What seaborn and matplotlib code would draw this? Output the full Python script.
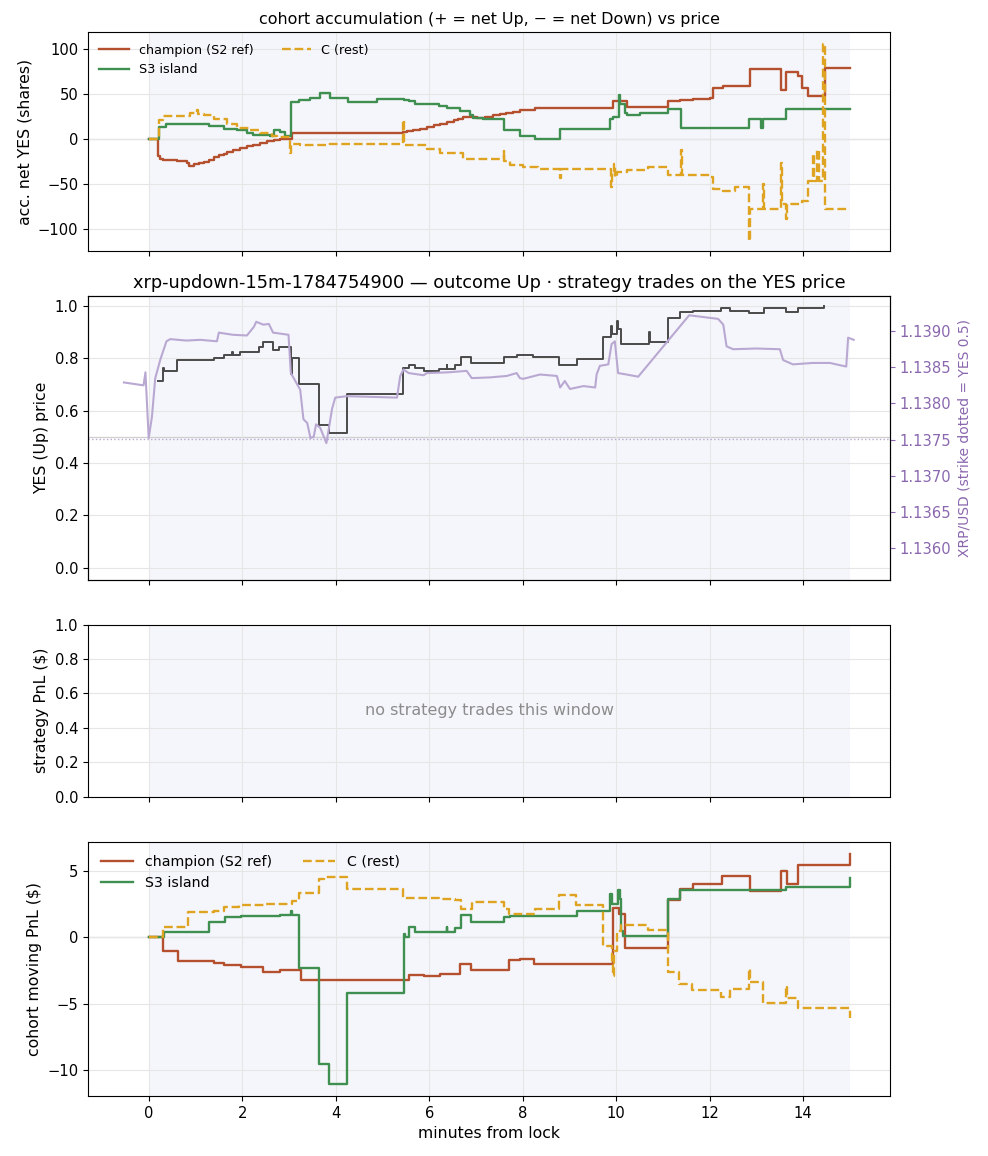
import pandas as pd
import seaborn as sns
from matplotlib import pyplot as plt

# ---- cohort accumulation (net YES shares) ----
champ_acc_t = [0.00, 0.20, 0.24, 0.31, 0.60, 0.82, 0.86, 0.96, 1.08, 1.18, 1.29, 1.39, 1.50, 1.60, 1.67,
               1.80, 1.96, 2.10, 2.24, 2.38, 2.53, 2.67, 2.81, 3.06, 5.43, 5.52, 5.66, 5.80, 5.95, 6.10,
               6.23, 6.38, 6.52, 6.62, 6.73, 7.02, 7.20, 7.37, 7.51, 7.65, 7.80, 7.94, 8.26, 9.93, 10.22,
               11.11, 11.36, 11.50, 11.65, 12.00, 12.07, 12.28, 12.86, 13.53, 13.64, 13.89, 13.98, 14.10,
               14.46, 15.00]
champ_acc_v = [0, -19.6, -22, -23.3, -24.5, -27.0, -30.4, -27.8, -27.0, -25.5, -23, -20.4, -18.5, -16.5, -14.8,
               -12.5, -10.0, -8.5, -6.7, -4.8, -3.0, -1.1, 0.0, 6.7, 7.5, 8.5, 9.3, 11.0, 13.0, 15.0,
               16.7, 18.5, 20.4, 22.0, 24.0, 23.3, 24.6, 25.9, 27.2, 28.5, 30.0, 31.5, 34.4, 41.9, 35.2,
               41.9, 42.6, 43.2, 43.7, 45.2, 56.3, 58.1, 77.8, 53.7, 73.7, 69.3, 56.7, 47.8,
               78.9, 78.9]

s3_acc_t = [0.00, 0.21, 0.36, 1.28, 1.60, 1.89, 2.10, 2.24, 2.60, 2.67, 2.81, 2.92, 3.04, 3.21, 3.45,
            3.67, 3.87, 4.27, 4.89, 5.45, 5.56, 5.70, 6.20, 6.37, 6.66, 6.87, 6.94, 7.16, 7.60, 7.94,
            8.26, 8.79, 9.87, 9.93, 10.06, 10.09, 10.19, 10.22, 10.51, 11.11, 11.38, 12.84, 13.10, 13.13,
            13.64, 15.00]
s3_acc_v = [0.0, 13.0, 16.7, 14.0, 11.1, 9.3, 6.3, 4.4, 2.6, 9.3, 7.4, 2.6, 40.7, 43.3, 45.2,
            50.7, 45.2, 40.7, 44.4, 42.6, 41.5, 38.1, 35.9, 34.4, 30.4, 25.9, 23.3, 22.2, 10.0, 2.6,
            0.0, 11.1, 22.2, 24.0, 48.1, 38.9, 28.5, 25.9, 28.9, 33.3, 12.2, 22.2, 12.0, 22.2,
            32.6, 32.6]

c_acc_t = [0.00, 0.21, 0.31, 0.89, 1.03, 1.06, 1.18, 1.39, 1.67, 1.89, 2.17, 2.39, 2.64, 2.74, 3.03,
           3.05, 3.24, 3.81, 5.43, 5.45, 5.95, 6.23, 6.73, 7.59, 7.61, 7.73, 8.01, 8.33, 8.79, 8.81,
           9.86, 9.88, 9.91, 9.95, 9.98, 10.02, 10.22, 10.69, 11.11, 11.38, 11.40, 12.00, 12.07, 12.28,
           12.53, 12.84, 12.87, 13.14, 13.16, 13.53, 13.55, 13.64, 13.66, 13.98, 14.10, 14.20, 14.23,
           14.30, 14.33, 14.42, 14.46, 15.00]
c_acc_v = [0.0, 20.4, 24.8, 28.5, 31.5, 27.0, 25.9, 22.2, 16.7, 11.9, 9.3, 6.7, 3.3, 1.9, -16.0,
           -5.6, -6.7, -5.6, 21.0, -7.4, -11.0, -15.6, -22.2, -14.0, -25.2, -29.6, -31.5, -33.3, -44.0, -33.3,
           -33.3, -53.7, -37.0, -27.8, -42.0, -37.0, -34.4, -31.5, -40.7, -12.0, -40.7, -42.6, -55.6, -57.4,
           -53.7, -113.0, -77.8, -50.0, -77.8, -27.0, -72.2, -89.0, -72.2, -68.5, -46.3, -16.7, -46.3,
           -12.0, -46.3, 105.6, -77.8, -77.8]

# ---- market: YES price (steps) and XRP/USD ----
yes_t = [0.19, 0.31, 0.335, 0.61, 1.39, 1.62, 1.78, 1.80, 1.96, 2.35, 2.44, 2.66, 2.79, 3.04, 3.065,
         3.21, 3.65, 3.85, 4.24, 5.44, 5.56, 5.70, 5.89, 6.20, 6.37, 6.39, 6.55, 6.67, 6.89, 7.60,
         7.88, 8.23, 8.78, 9.16, 9.71, 9.89, 9.91, 10.01, 10.04, 10.11, 10.70, 10.72, 11.11, 11.36, 11.65,
         12.25, 12.44, 12.84, 13.16, 13.64, 13.89, 14.44]
yes_v = [0.711, 0.762, 0.751, 0.792, 0.802, 0.810, 0.823, 0.810, 0.823, 0.841, 0.862, 0.830, 0.841, 0.741, 0.802,
         0.700, 0.545, 0.513, 0.662, 0.762, 0.773, 0.762, 0.751, 0.760, 0.775, 0.760, 0.773, 0.805, 0.780, 0.805,
         0.811, 0.805, 0.773, 0.796, 0.879, 0.924, 0.891, 0.943, 0.910, 0.853, 0.898, 0.862, 0.953, 0.974, 0.981,
         0.991, 0.981, 0.971, 0.991, 0.974, 0.991, 0.997]

xrp_t = [-0.53, -0.11, -0.07, 0.00, 0.07, 0.14, 0.25, 0.38, 0.46, 0.80, 1.10, 1.46, 1.50, 1.80, 2.10,
         2.25, 2.30, 2.45, 2.57, 2.66, 2.99, 3.04, 3.24, 3.31, 3.39, 3.46, 3.53, 3.58, 3.67, 3.80,
         3.85, 3.92, 3.99, 4.24, 4.80, 5.31, 5.38, 5.45, 5.56, 5.88, 5.95, 6.40, 6.80, 6.91, 7.30,
         7.66, 7.87, 7.94, 8.01, 8.37, 8.73, 8.80, 8.90, 9.01, 9.30, 9.55, 9.58, 9.65, 9.83, 9.90,
         9.97, 10.04, 10.22, 10.47, 11.56, 12.18, 12.29, 12.36, 12.50, 13.00, 13.50, 13.57, 13.78, 14.20,
         14.57, 14.92, 14.96, 15.08]
xrp_v = [1.13829, 1.13825, 1.13843, 1.13752, 1.13782, 1.13835, 1.13861, 1.13886, 1.13889, 1.13887,
         1.13888, 1.13886, 1.13898, 1.13895, 1.13894, 1.13906, 1.13913, 1.13909, 1.13910, 1.13898,
         1.13895, 1.13842, 1.13819, 1.13778, 1.13773, 1.13752, 1.13754, 1.13771, 1.13766, 1.13745,
         1.13764, 1.13792, 1.13808, 1.13810, 1.13809, 1.13808, 1.13838, 1.13847, 1.13842, 1.13839,
         1.13842, 1.13843, 1.13845, 1.13835, 1.13836, 1.13838, 1.13842, 1.13835, 1.13834, 1.13840,
         1.13838, 1.13822, 1.13831, 1.13820, 1.13824, 1.13822, 1.13840, 1.13852, 1.13854, 1.13882,
         1.13886, 1.13842, 1.13840, 1.13837, 1.13922, 1.13917, 1.13909, 1.13879, 1.13875, 1.13876,
         1.13875, 1.13860, 1.13854, 1.13856, 1.13856, 1.13851, 1.13891, 1.13888]
strike = 1.13751
xrp_ticks = [1.1360, 1.1365, 1.1370, 1.1375, 1.1380, 1.1385, 1.1390]

# ---- cohort moving PnL ----
champ_pnl_t = [0.00, 0.31, 0.62, 1.40, 1.62, 1.97, 2.44, 2.80, 3.25, 5.56, 5.88, 6.22, 6.66, 6.89, 7.71,
               7.94, 8.25, 9.93, 10.07, 10.19, 11.11, 11.36, 11.65, 12.27, 12.87, 13.53, 13.65, 13.89, 15.00]
champ_pnl_v = [0.0, -1.0, -1.77, -1.97, -2.1, -2.27, -2.58, -2.47, -3.23, -2.85, -2.95, -2.78, -2.02, -2.47, -1.72,
               -1.64, -2.02, 2.2, 1.77, -0.81, 2.83, 3.66, 4.04, 4.62, 3.48, 5.0, 4.0, 5.48, 6.3]

s3_pnl_t = [0.00, 0.32, 1.30, 1.64, 1.97, 2.80, 3.04, 3.07, 3.21, 3.65, 3.85, 4.25, 5.45, 5.48, 5.56,
            5.70, 6.37, 6.39, 6.55, 6.67, 6.89, 7.60, 7.73, 8.26, 9.16, 9.87, 9.90, 10.04, 10.08, 10.11,
            10.14, 11.11, 11.36, 13.64, 15.00]
s3_pnl_v = [0.0, 0.43, 1.14, 1.52, 1.59, 1.69, 2.0, 1.69, -2.35, -9.52, -11.04, -4.22, 0.25, 0.0, 0.76,
            0.38, 0.76, 0.38, 0.68, 1.69, 1.14, 1.52, 1.64, 1.59, 2.02, 3.28, 2.53, 3.59, 2.9, 0.5,
            0.13, 2.9, 3.59, 3.79, 4.47]

c_pnl_t = [0.00, 0.31, 0.83, 1.39, 1.60, 1.94, 2.46, 3.06, 3.21, 3.65, 3.74, 4.24, 5.43, 6.03, 6.20,
           6.55, 6.67, 6.91, 7.60, 7.71, 8.26, 8.78, 9.15, 9.71, 9.90, 9.93, 9.96, 10.02, 10.11, 10.68,
           11.11, 11.35, 11.63, 12.25, 12.44, 12.85, 12.87, 13.15, 13.64, 13.66, 13.89, 15.00]
c_pnl_v = [0.0, 0.81, 1.89, 2.02, 2.27, 2.40, 2.53, 2.70, 3.36, 4.42, 4.55, 3.61, 2.95, 3.0, 2.85,
           2.78, 2.15, 2.65, 2.1, 1.77, 2.15, 3.2, 2.45, -0.63, -2.0, -2.9, -1.0, 0.5, 0.93, 0.58,
           -2.65, -3.53, -3.96, -4.49, -3.91, -2.4, -3.36, -4.92, -3.66, -4.55, -5.35, -6.06]

cohorts = ['champion (S2 ref)', 'S3 island', 'C (rest)']
colors = {'champion (S2 ref)': '#b5502e', 'S3 island': '#3f8f50', 'C (rest)': '#dfa322'}
styles = {'champion (S2 ref)': '-', 'S3 island': '-', 'C (rest)': '--'}
acc = {'champion (S2 ref)': (champ_acc_t, champ_acc_v),
       'S3 island': (s3_acc_t, s3_acc_v),
       'C (rest)': (c_acc_t, c_acc_v)}
pnl = {'champion (S2 ref)': (champ_pnl_t, champ_pnl_v),
       'S3 island': (s3_pnl_t, s3_pnl_v),
       'C (rest)': (c_pnl_t, c_pnl_v)}

plt.rcParams['font.family'] = ['DejaVu Sans']
purple = '#8a67ae'
span_color = '#f5f6fb'
label_fs = 11.3
tick_fs = 10.6

fig, axes = plt.subplots(4, 1, figsize=(9.88, 11.56), dpi=100, sharex=True,
                         gridspec_kw={'height_ratios': [219, 283, 172, 254]})
fig.subplots_adjust(left=0.089, right=0.901, top=0.972, bottom=0.052, hspace=0.194)
ax1, ax2, ax3, ax4 = axes

for ax in axes:
    ax.axvspan(0, 15, color=span_color, zorder=0, lw=0)
    ax.grid(True, color='#e6e6e6', lw=0.8)


def draw_cohorts(ax, data, fs):
    ax.axhline(0, color='#cfcfcf', lw=0.9, zorder=1)
    for name in cohorts:
        t, v = data[name]
        df = pd.DataFrame({'t': t, 'v': v})
        sns.lineplot(data=df, x='t', y='v', ax=ax, drawstyle='steps-post', estimator=None, sort=False,
                     color=colors[name], linestyle=styles[name], lw=1.7, label=name)
    ax.legend(loc='upper left', ncol=2, frameon=False, fontsize=fs, handlelength=2.3, columnspacing=2.2)


# panel 1
draw_cohorts(ax1, acc, 9.2)
ax1.set_ylim(-125, 118)
ax1.set_ylabel('acc. net YES (shares)', fontsize=label_fs)
ax1.set_title('cohort accumulation (+ = net Up, \u2212 = net Down) vs price', fontsize=11.4)

# panel 2
ax2.axhline(0.5, color='#cfcfcf', lw=0.9, zorder=1)
sns.lineplot(x=yes_t, y=yes_v, ax=ax2, drawstyle='steps-post', estimator=None, sort=False,
             color='#4a4a4a', lw=1.4)
ax2.set_ylim(-0.045, 1.035)
ax2.set_ylabel('YES (Up) price', fontsize=label_fs)
ax2.set_title('xrp-updown-15m-1784754900 \u2014 outcome Up \u00b7 strategy trades on the YES price',
              fontsize=12.8)
tw = ax2.twinx()
sns.lineplot(x=xrp_t, y=xrp_v, ax=tw, estimator=None, sort=False, color='#b9a8d2', lw=1.5)
tw.axhline(strike, color='#b9a8d2', ls=':', lw=1.0)
tw.set_ylim(1.13556, 1.13948)
tw.set_yticks(xrp_ticks)
tw.set_yticklabels([f'{v:.4f}' for v in xrp_ticks])
tw.tick_params(axis='y', colors=purple, labelsize=tick_fs)
tw.set_ylabel('XRP/USD (strike dotted = YES 0.5)', color=purple, fontsize=10)

# panel 3
ax3.set_ylim(0, 1)
ax3.set_ylabel('strategy PnL (\\$)', fontsize=label_fs)
ax3.text(0.5, 0.5, 'no strategy trades this window', transform=ax3.transAxes, ha='center', va='center',
         color='#8c8c8c', fontsize=11.5)

# panel 4
draw_cohorts(ax4, pnl, 10.2)
ax4.set_ylim(-11.95, 7.2)
ax4.set_yticks([-10, -5, 0, 5])
ax4.set_ylabel('cohort moving PnL (\\$)', fontsize=label_fs)

for ax in axes:
    ax.tick_params(labelsize=tick_fs)
    ax.set_xlabel('')
ax4.set_xlabel('minutes from lock', fontsize=label_fs)
ax4.set_xlim(-1.3, 15.86)
ax4.set_xticks([0, 2, 4, 6, 8, 10, 12, 14])

plt.savefig('out.png', dpi=100)
